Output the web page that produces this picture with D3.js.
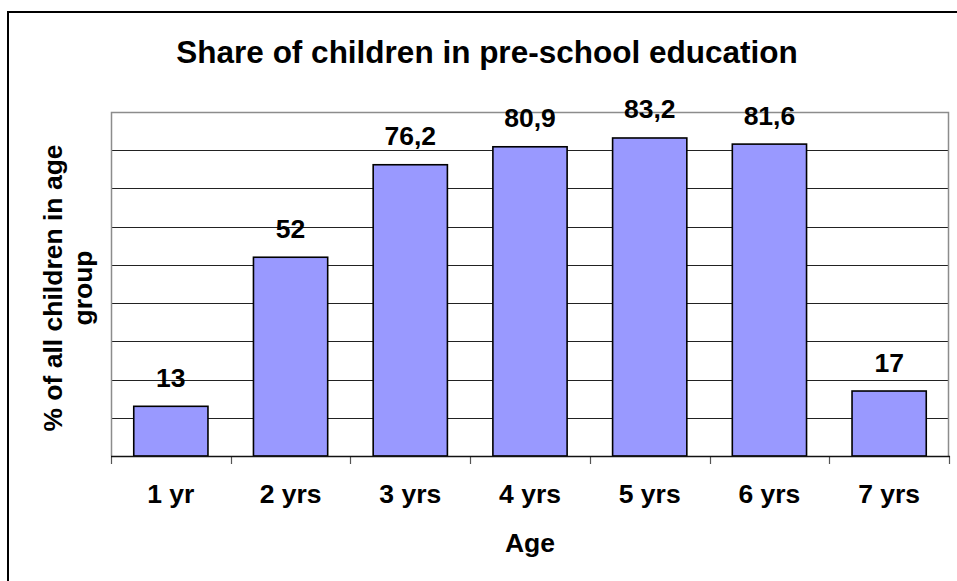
<!DOCTYPE html>
<html>
<head>
<meta charset="utf-8">
<script src="https://cdn.jsdelivr.net/npm/d3@7"></script>
<style>
  html, body { margin: 0; padding: 0; background: #fff; }
  svg { display: block; }
  text { font-family: "Liberation Sans", Arial, sans-serif; font-weight: bold; fill: #000; }
</style>
</head>
<body>
<svg id="chart" width="957" height="581"></svg>
<script>
// Share of children in pre-school education, by age
const categories = ["1 yr", "2 yrs", "3 yrs", "4 yrs", "5 yrs", "6 yrs", "7 yrs"];
const shares = [13, 52, 76.2, 80.9, 83.2, 81.6, 17];
const yTicks = [0, 10, 20, 30, 40, 50, 60, 70, 80, 90];

const svg = d3.select("#chart");
const W = 957, H = 581;
const plot = { left: 111, right: 949, top: 112, bottom: 456 };

// outer chart frame (runs past the right and bottom edges)
svg.append("rect")
  .attr("x", 8).attr("y", 12)
  .attr("width", W + 20).attr("height", H + 20)
  .attr("fill", "#fff").attr("stroke", "#000").attr("stroke-width", 2);

const x = d3.scaleBand()
  .domain(categories)
  .range([plot.left, plot.right])
  .paddingInner(0.38)
  .paddingOuter(0.19);

const y = d3.scaleLinear().domain([0, 90]).range([plot.bottom, plot.top]);

// horizontal gridlines
svg.append("g")
  .selectAll("line")
  .data(yTicks.filter(t => t > 0 && t < 90))
  .join("line")
  .attr("x1", plot.left).attr("x2", plot.right)
  .attr("y1", d => Math.round(y(d)) + 0.5).attr("y2", d => Math.round(y(d)) + 0.5)
  .attr("stroke", "#222").attr("stroke-width", 1);

// plot area border (left, top, right)
svg.append("path")
  .attr("d", `M${plot.left + 0.5},${plot.bottom} V${plot.top + 0.5} H${plot.right - 0.5} V${plot.bottom}`)
  .attr("fill", "none").attr("stroke", "#8c8c8c").attr("stroke-width", 1.5);

// bars
svg.append("g")
  .selectAll("rect")
  .data(shares)
  .join("rect")
  .attr("x", (d, i) => x(categories[i]))
  .attr("y", d => y(d))
  .attr("width", x.bandwidth())
  .attr("height", d => y(0) - y(d))
  .attr("fill", "#9999ff")
  .attr("stroke", "#000").attr("stroke-width", 1.6);

// value labels
const fmt = v => String(v).replace(".", ",");
svg.append("g")
  .selectAll("text")
  .data(shares)
  .join("text")
  .attr("x", (d, i) => x(categories[i]) + x.bandwidth() / 2)
  .attr("y", d => y(d) - 19.5)
  .attr("text-anchor", "middle")
  .attr("font-size", 26.5)
  .text(d => fmt(d));

// category axis: boundary ticks between groups
const step = (plot.right - plot.left) / categories.length;
const bounds = d3.range(categories.length + 1).map(i => plot.left + i * step);
svg.append("g")
  .selectAll("line")
  .data(bounds)
  .join("line")
  .attr("x1", d => Math.round(d) + 0.5).attr("x2", d => Math.round(d) + 0.5)
  .attr("y1", plot.bottom).attr("y2", plot.bottom + 8)
  .attr("stroke", "#555").attr("stroke-width", 1.2);

svg.append("line")
  .attr("x1", plot.left).attr("x2", plot.right + 1)
  .attr("y1", plot.bottom + 0.5).attr("y2", plot.bottom + 0.5)
  .attr("stroke", "#111").attr("stroke-width", 1.5);

svg.append("g")
  .selectAll("text")
  .data(categories)
  .join("text")
  .attr("x", d => x(d) + x.bandwidth() / 2)
  .attr("y", 503)
  .attr("text-anchor", "middle")
  .attr("font-size", 26.5)
  .text(d => d);

// axis titles
svg.append("text")
  .attr("x", (plot.left + plot.right) / 2).attr("y", 552)
  .attr("text-anchor", "middle").attr("font-size", 26.5)
  .text("Age");

const yTitle = svg.append("text")
  .attr("transform", "translate(62,288) rotate(-90)")
  .attr("text-anchor", "middle").attr("font-size", 26.5);
yTitle.append("tspan").attr("x", 0).attr("dy", 0).text("% of all children in age");
yTitle.append("tspan").attr("x", 0).attr("dy", 30).text("group");

// chart title
svg.append("text")
  .attr("x", 487).attr("y", 63)
  .attr("text-anchor", "middle").attr("font-size", 31.5)
  .text("Share of children in pre-school education");
</script>
</body>
</html>
